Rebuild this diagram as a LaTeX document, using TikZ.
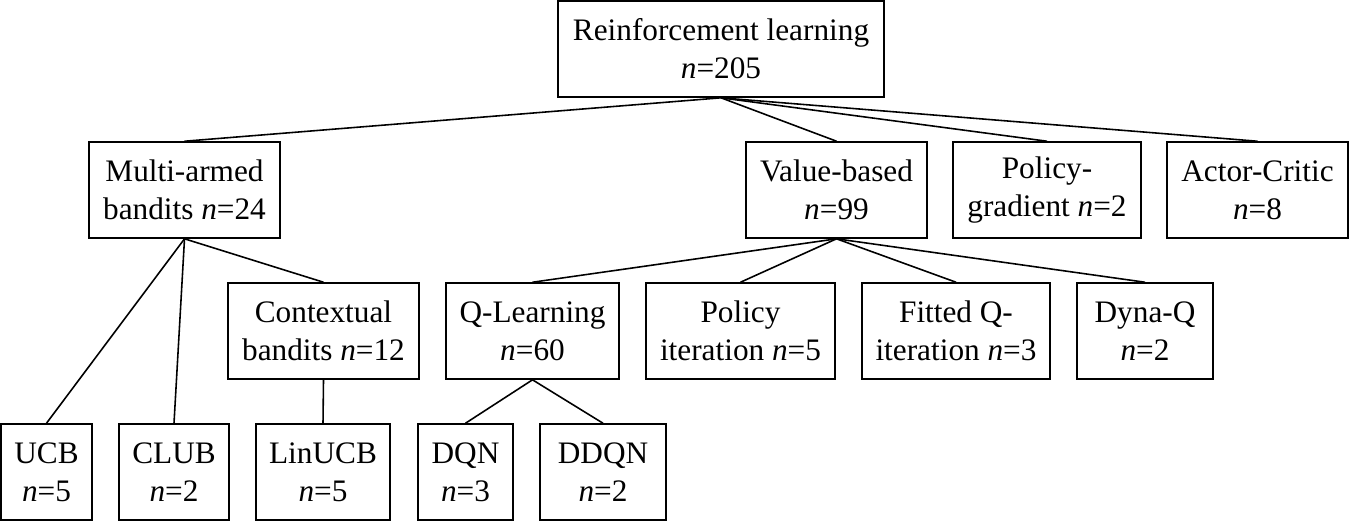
\documentclass[tikz,border=0pt]{standalone}
\usepackage{fontspec}
\setmainfont{Liberation Serif}
\newcommand{\nval}[1]{\textit{n}=#1}
\begin{document}
\begin{tikzpicture}[
  box/.style={draw, line width=0.45pt, inner sep=0pt, minimum height=0.96cm, align=center,
    font=\fontsize{8.9}{10.8}\selectfont},
  link/.style={line width=0.45pt}
]

\useasboundingbox (0,0) rectangle (13.49,-5.21);

% root
\node[box, minimum width=3.26cm] (rl) at (7.21,-0.49) {Reinforcement learning\\\nval{205}};

% first level
\node[box, minimum width=1.91cm] (mab) at (1.845,-1.90) {Multi-armed\\bandits \nval{24}};
\node[box, minimum width=1.81cm] (vb) at (8.365,-1.90) {Value-based\\\nval{99}};
\node[box, minimum width=1.88cm] (pg) at (10.47,-1.90) {Policy-\\gradient \nval{2}};
\node[box, minimum width=1.81cm] (ac) at (12.575,-1.90) {Actor-Critic\\\nval{8}};

% second level
\node[box, minimum width=1.91cm] (cb) at (3.235,-3.31) {Contextual\\bandits \nval{12}};
\node[box, minimum width=1.73cm] (ql) at (5.325,-3.31) {Q-Learning\\\nval{60}};
\node[box, minimum width=1.89cm] (pi) at (7.405,-3.31) {Policy\\iteration \nval{5}};
\node[box, minimum width=1.88cm] (fq) at (9.56,-3.31) {Fitted Q-\\iteration \nval{3}};
\node[box, minimum width=1.36cm] (dq) at (11.45,-3.31) {Dyna-Q\\\nval{2}};

% third level
\node[box, minimum width=0.91cm] (ucb) at (0.465,-4.72) {UCB\\\nval{5}};
\node[box, minimum width=1.10cm] (club) at (1.74,-4.72) {CLUB\\\nval{2}};
\node[box, minimum width=1.34cm] (lin) at (3.23,-4.72) {LinUCB\\\nval{5}};
\node[box, minimum width=0.95cm] (dqn) at (4.655,-4.72) {DQN\\\nval{3}};
\node[box, minimum width=1.26cm] (ddqn) at (6.03,-4.72) {DDQN\\\nval{2}};

% links
\foreach \c in {mab,vb,pg,ac}
  \draw[link] (rl.south) -- (\c.north);
\foreach \c in {ucb,club,cb}
  \draw[link] (mab.south) -- (\c.north);
\draw[link] (cb.south) -- (lin.north);
\foreach \c in {ql,pi,fq,dq}
  \draw[link] (vb.south) -- (\c.north);
\foreach \c in {dqn,ddqn}
  \draw[link] (ql.south) -- (\c.north);

\end{tikzpicture}
\end{document}
